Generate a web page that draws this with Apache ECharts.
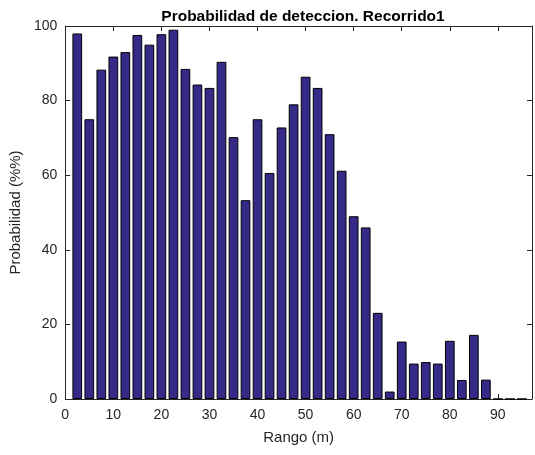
<!DOCTYPE html>
<html>
<head>
<meta charset="utf-8">
<script src="https://cdn.jsdelivr.net/npm/echarts@6/dist/echarts.min.js"></script>
<style>html,body{margin:0;padding:0;background:#fff}#c{width:535px;height:455px}</style>
</head>
<body>
<div id="c"></div>
<script>
var rango = [2.5,5,7.5,10,12.5,15,17.5,20,22.5,25,27.5,30,32.5,35,37.5,40,42.5,45,47.5,50,52.5,55,57.5,60,62.5,65,67.5,70,72.5,75,77.5,80,82.5,85,87.5,90,92.5,95];
var probabilidad = [98,75,88.3,91.8,93,97.6,95,97.8,99,88.5,84.3,83.4,90.4,70.2,53.3,75,60.6,72.8,79,86.4,83.4,71,61.2,49,46,23.1,2,15.4,9.5,9.9,9.5,15.6,5.1,17.2,5.2,0,0,0];
var xTicks = [0,10,20,30,40,50,60,70,80,90];
var yTicks = [0,20,40,60,80,100];

var W = 535, H = 455;
var gridL = 62.5, gridR = 1.5, gridT = 26, gridB = 56;
var xMax = 97.1;
var barPx = (W - gridL - gridR) / xMax * 2.0;
var axisCol = '#262626';
var font = '"Liberation Sans", Arial, sans-serif';

var chart = echarts.init(document.getElementById('c'), null, {renderer:'canvas'});
function line(){ return {show:true, onZero:false, lineStyle:{color:axisCol, width:1}}; }
function tick(){ return {show:true, inside:true, length:5, lineStyle:{color:axisCol}}; }
chart.setOption({
  animation:false,
  backgroundColor:'#fff',
  title:{text:'Probabilidad de deteccion. Recorrido1', left:(gridL + (W-gridR))/2, textAlign:'center', top:4,
    textStyle:{fontFamily:font, fontSize:15.5, fontWeight:'bold', color:'#000'}},
  grid:{left:gridL, right:gridR, top:gridT, bottom:gridB, containLabel:false},
  xAxis:[
    {type:'value', min:0, max:xMax, interval:10, position:'bottom',
      name:'Rango (m)', nameLocation:'middle', nameGap:31,
      nameTextStyle:{fontFamily:font, fontSize:15, color:axisCol},
      axisLine:line(), axisTick:tick(), splitLine:{show:false},
      axisLabel:{show:true, margin:9, fontFamily:font, fontSize:14, color:axisCol,
        formatter:function(v){return xTicks.indexOf(v)>=0 ? String(v) : '';}}},
    {type:'value', min:0, max:xMax, interval:10, position:'top',
      axisLine:line(), axisTick:tick(), splitLine:{show:false}, axisLabel:{show:false}}
  ],
  yAxis:[
    {type:'value', min:0, max:100, interval:20, position:'left',
      name:'Probabilidad (%%)', nameLocation:'middle', nameGap:37,
      nameTextStyle:{fontFamily:font, fontSize:15, color:axisCol},
      axisLine:line(), axisTick:tick(), splitLine:{show:false},
      axisLabel:{show:true, margin:8, fontFamily:font, fontSize:14, color:axisCol,
        formatter:function(v){return yTicks.indexOf(v)>=0 ? String(v) : '';}}},
    {type:'value', min:0, max:100, interval:20, position:'right',
      axisLine:line(), axisTick:tick(), splitLine:{show:false}, axisLabel:{show:false}}
  ],
  series:[{
    type:'bar',
    xAxisIndex:0, yAxisIndex:0,
    barWidth:barPx,
    data: rango.map(function(x,i){return [x, probabilidad[i]];}),
    itemStyle:{color:'#352a87', borderColor:'#000', borderWidth:1},
    emphasis:{disabled:true}
  }]
});
</script>
</body>
</html>
